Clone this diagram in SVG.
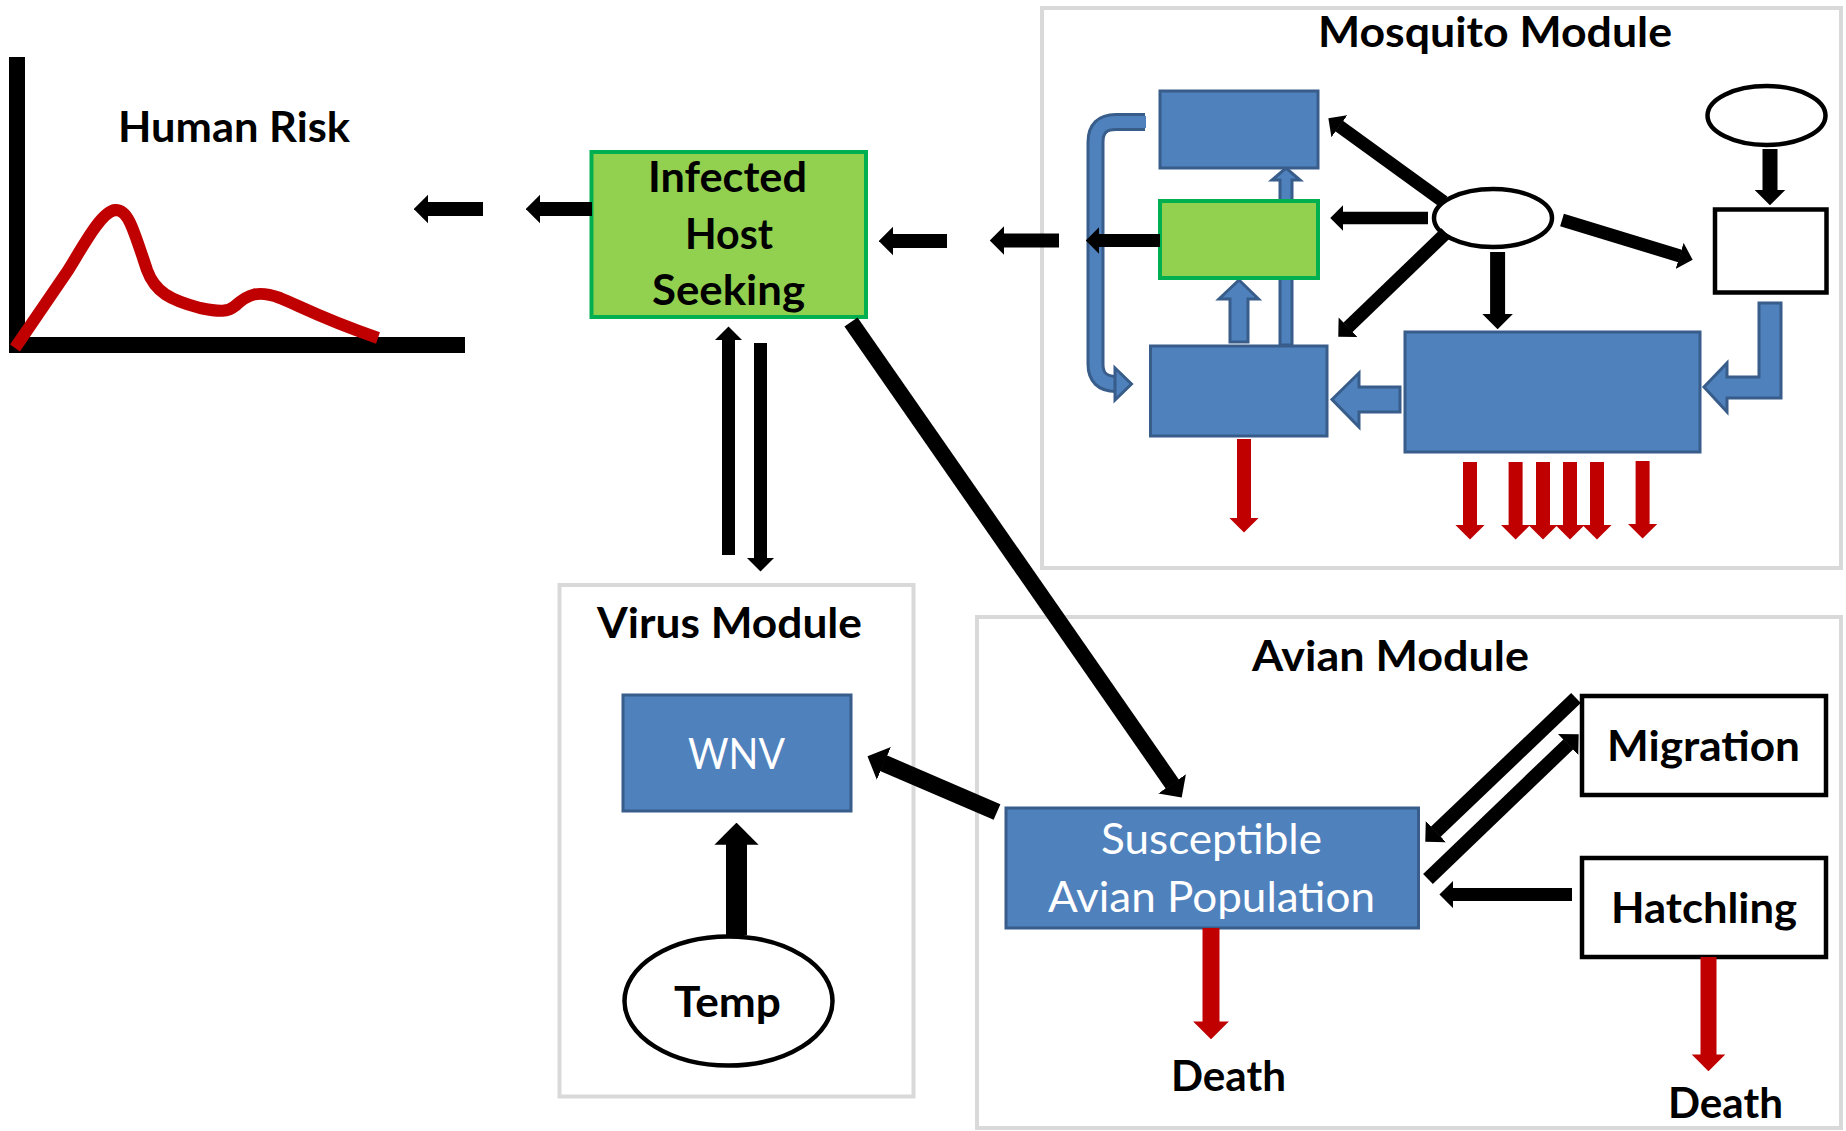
<svg xmlns="http://www.w3.org/2000/svg" width="1846" height="1131" viewBox="0 0 1846 1131">
  <defs>
    <style>
      .lbl{font-family:Lato,"Open Sans","DejaVu Sans",sans-serif;font-weight:700;font-size:42px;fill:#000}
      .wl{font-family:Lato,"Open Sans","DejaVu Sans",sans-serif;font-weight:400;font-size:42px;fill:#fff}
      .mod{fill:#fff;stroke:#D9D9D9;stroke-width:4}
      .blue{fill:#4F81BD;stroke:#385D8A;stroke-width:3}
      .green{fill:#92D050;stroke:#00B050;stroke-width:4}
      .out{fill:#fff;stroke:#000;stroke-width:4.5}
      .blk{stroke:#000;fill:none;marker-end:url(#ahB)}
      .red{stroke:#C00000;fill:none;marker-end:url(#ahR)}
      .barrow{fill:#4F81BD;stroke:#385D8A;stroke-width:3;stroke-linejoin:miter}
    </style>
    <marker id="ahB" viewBox="0 0 10 20" markerWidth="1.05" markerHeight="2.1" refX="0.3" refY="10" orient="auto">
      <path d="M0,0 L10,10 L0,20 Z" fill="#000"/>
    </marker>
    <marker id="ahR" viewBox="0 0 10 20" markerWidth="1.05" markerHeight="2.1" refX="0.3" refY="10" orient="auto">
      <path d="M0,0 L10,10 L0,20 Z" fill="#C00000"/>
    </marker>
  </defs>

  <rect x="0" y="0" width="1846" height="1131" fill="#fff"/>

  <!-- module frames -->
  <g id="mosquito-module">
    <rect class="mod" x="1042" y="8" width="799" height="560"/>
    <text class="lbl" x="1318" y="47" textLength="354" lengthAdjust="spacingAndGlyphs">Mosquito Module</text>
  </g>
  <g id="virus-module">
    <rect class="mod" x="559.5" y="585" width="354" height="511.5"/>
    <text class="lbl" x="597" y="638" textLength="265" lengthAdjust="spacingAndGlyphs">Virus Module</text>
  </g>
  <g id="avian-module">
    <rect class="mod" x="977" y="617" width="864" height="511"/>
    <text class="lbl" x="1252" y="671" textLength="277" lengthAdjust="spacingAndGlyphs">Avian Module</text>
  </g>

  <!-- human risk chart -->
  <g id="human-risk">
    <rect x="9" y="57" width="16" height="296" fill="#000"/>
    <rect x="9" y="337" width="456" height="16" fill="#000"/>
    <path d="M15 348 L67 272 C80 252 100 212 115 210 C128 209 133 228 147 270 C155 292 170 300 200 308 C220 312 228 312 235 306 C248 294 258 290 280 298 C300 306 320 318 378 338" fill="none" stroke="#C00000" stroke-width="12"/>
    <text class="lbl" x="118" y="142" textLength="232" lengthAdjust="spacingAndGlyphs">Human Risk</text>
  </g>

  <!-- mosquito internals: flows behind the compartments -->
  <g id="mosquito-flows">
    <!-- thin transfer arrow up to the top compartment -->
    <polygon class="barrow" points="1280,345 1280,180 1272,180 1286,168 1300,180 1292,180 1292,345"/>
    <!-- looping arrow on the left -->
    <path d="M1145 122 L1116 122 Q1095.5 122 1095.5 142 L1095.5 364 Q1095.5 384 1116 384" fill="none" stroke="#385D8A" stroke-width="18"/>
    <path d="M1146 122 L1116 122 Q1095.5 122 1095.5 142 L1095.5 364 Q1095.5 384 1117 384" fill="none" stroke="#4F81BD" stroke-width="12"/>
    <polygon class="barrow" points="1115,368 1131.5,384 1115,400"/>
    <!-- small block arrow up -->
    <polygon class="barrow" points="1230,342 1230,299 1219,299 1239,280 1258.5,299 1248,299 1248,342"/>
    <!-- block arrow between the two lower compartments -->
    <polygon class="barrow" points="1400,387 1359,387 1359,373 1332,399.5 1359,427 1359,412 1400,412"/>
    <!-- bent arrow from the square into the large compartment -->
    <polygon class="barrow" points="1759,303 1781,303 1781,398 1727,398 1727,412 1704,387 1727,363 1727,377 1759,377"/>
  </g>

  <g id="mosquito-top">
    <rect class="blue" x="1160" y="91" width="158" height="77"/>
  </g>
  <g id="mosquito-infected">
    <rect class="green" x="1160" y="201" width="158" height="77"/>
  </g>
  <g id="mosquito-lower-left">
    <rect class="blue" x="1150.5" y="346" width="176.5" height="90"/>
  </g>
  <g id="mosquito-large">
    <rect class="blue" x="1405" y="332" width="295" height="120"/>
  </g>
  <g id="mosquito-hub">
    <ellipse class="out" cx="1493" cy="218" rx="59" ry="29"/>
  </g>
  <g id="mosquito-source">
    <ellipse class="out" cx="1766.5" cy="115.5" rx="59" ry="29.5"/>
  </g>
  <g id="mosquito-square">
    <rect class="out" x="1715" y="209.5" width="111.5" height="83"/>
  </g>

  <!-- central nodes -->
  <g id="infected-host-seeking">
    <rect class="green" x="591.5" y="152" width="274.5" height="165"/>
    <text class="lbl" x="648" y="192" textLength="159" lengthAdjust="spacingAndGlyphs">Infected</text>
    <text class="lbl" x="685" y="249" textLength="88" lengthAdjust="spacingAndGlyphs">Host</text>
    <text class="lbl" x="652" y="305" textLength="153" lengthAdjust="spacingAndGlyphs">Seeking</text>
  </g>
  <g id="wnv">
    <rect class="blue" x="623" y="695" width="228" height="116"/>
    <text class="wl" x="688" y="769" textLength="97" lengthAdjust="spacingAndGlyphs">WNV</text>
  </g>
  <g id="temp">
    <ellipse class="out" cx="728.5" cy="1001" rx="104" ry="64.5"/>
    <text class="lbl" x="674" y="1017" textLength="107" lengthAdjust="spacingAndGlyphs">Temp</text>
  </g>
  <g id="susceptible-avian">
    <rect class="blue" x="1006" y="808" width="412.5" height="120"/>
    <text class="wl" x="1101" y="854" textLength="221" lengthAdjust="spacingAndGlyphs">Susceptible</text>
    <text class="wl" x="1048" y="911.5" textLength="327" lengthAdjust="spacingAndGlyphs">Avian Population</text>
  </g>
  <g id="migration">
    <rect class="out" x="1582" y="696" width="244" height="99"/>
    <text class="lbl" x="1607" y="761" textLength="193" lengthAdjust="spacingAndGlyphs">Migration</text>
  </g>
  <g id="hatchling">
    <rect class="out" x="1582" y="858" width="244" height="99"/>
    <text class="lbl" x="1611" y="923" textLength="186" lengthAdjust="spacingAndGlyphs">Hatchling</text>
  </g>
  <g id="death-labels">
    <text class="lbl" x="1171" y="1091" textLength="115" lengthAdjust="spacingAndGlyphs">Death</text>
    <text class="lbl" x="1668" y="1118" textLength="115" lengthAdjust="spacingAndGlyphs">Death</text>
  </g>

  <!-- connectors -->
  <g id="connectors">
    <line class="blk" stroke-width="14" x1="483" y1="209" x2="428" y2="209"/>
    <line class="blk" stroke-width="14" x1="592" y1="209" x2="540" y2="209"/>
    <line class="blk" stroke-width="14" x1="947" y1="241" x2="893" y2="241"/>
    <line class="blk" stroke-width="14" x1="1059" y1="240.5" x2="1004" y2="240.5"/>
    <line class="blk" stroke-width="13" x1="1160" y1="240.5" x2="1099" y2="240.5"/>
    <line class="blk" stroke-width="12.5" x1="1428" y1="218" x2="1343" y2="218"/>
    <line class="blk" stroke-width="13" x1="1443.6" y1="201.7" x2="1339.1" y2="126"/>
    <line class="blk" stroke-width="13" x1="1562" y1="220" x2="1680" y2="256"/>
    <line class="blk" stroke-width="13" x1="1446" y1="233" x2="1347.8" y2="327.5"/>
    <line class="blk" stroke-width="15" x1="1497.6" y1="252" x2="1497.6" y2="314"/>
    <line class="blk" stroke-width="15" x1="1770" y1="149" x2="1770" y2="190"/>
    <line class="blk" stroke-width="13" x1="728.5" y1="555" x2="728.5" y2="339.7"/>
    <line class="blk" stroke-width="13" x1="760.5" y1="343" x2="760.5" y2="558.3"/>
    <line class="blk" stroke-width="16" x1="851" y1="322" x2="1172.4" y2="784.2"/>
    <line class="blk" stroke-width="17" x1="997" y1="812" x2="883.4" y2="763.1"/>
    <line class="blk" stroke-width="21" x1="736.5" y1="935" x2="736.5" y2="844"/>
    <line class="blk" stroke-width="14" x1="1576" y1="698" x2="1435.6" y2="831.9"/>
    <line class="blk" stroke-width="14" x1="1428" y1="879" x2="1568.4" y2="744.2"/>
    <line class="blk" stroke-width="13" x1="1572" y1="894.6" x2="1452.7" y2="894.6"/>

    <line class="red" stroke-width="14" x1="1244" y1="439" x2="1244" y2="518.3"/>
    <line class="red" stroke-width="14" x1="1470" y1="462" x2="1470" y2="525.3"/>
    <line class="red" stroke-width="14" x1="1515.6" y1="462" x2="1515.6" y2="525.3"/>
    <line class="red" stroke-width="14" x1="1543" y1="462" x2="1543" y2="525.3"/>
    <line class="red" stroke-width="14" x1="1570" y1="462" x2="1570" y2="525.3"/>
    <line class="red" stroke-width="14" x1="1597" y1="462" x2="1597" y2="525.3"/>
    <line class="red" stroke-width="14" x1="1642.6" y1="461" x2="1642.6" y2="524.3"/>
    <line class="red" stroke-width="17" x1="1211" y1="928" x2="1211" y2="1022"/>
    <line class="red" stroke-width="16" x1="1708.5" y1="957" x2="1708.5" y2="1055"/>
  </g>
</svg>
